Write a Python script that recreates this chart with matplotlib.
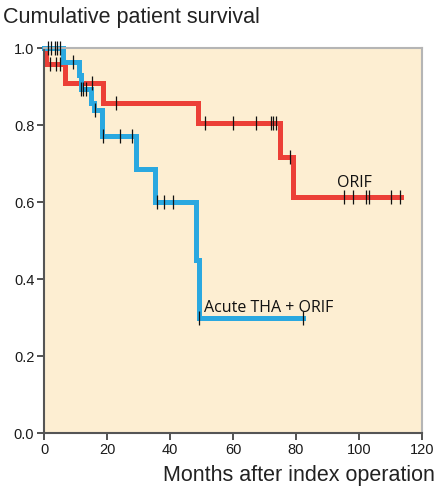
'''
Kaplan-Meier style survival curves, ORIF vs acute THA + ORIF.
'''
import matplotlib
matplotlib.use('Agg')
import matplotlib.pyplot as plt

plt.rcParams['font.family'] = ['Liberation Sans', 'DejaVu Sans']

# step curves (month of change, survival from that month on)
orif_t = [0, 0.6, 6.5, 18.8, 48.9, 74.9, 79.0]
orif_s = [1.0, 0.96, 0.91, 0.858, 0.806, 0.717, 0.614]
orif_end = 113.3
orif_cens_t = [1.8, 3.9, 5.0, 15.1, 23.0, 51.0, 60.0, 67.2, 72.1, 72.8, 73.5,
               78.1, 95.2, 98.1, 102.3, 103.2, 110.0, 113.0]

tha_t = [0, 6.0, 11.2, 11.6, 14.8, 16.0, 18.3, 29.2, 35.2, 48.1, 49.2]
tha_s = [1.0, 0.964, 0.929, 0.893, 0.857, 0.84, 0.771, 0.685, 0.60, 0.45, 0.30]
tha_end = 82.1
tha_cens_t = [1.3, 2.3, 3.4, 4.2, 5.0, 9.2, 11.7, 12.5, 13.2, 16.2, 18.8, 24.1,
              28.0, 36.0, 38.1, 41.0, 49.2, 82.1]

RED = '#ec3f37'
BLUE = '#2aa8e0'


def surv_at(times, surv, t):
    val = surv[0]
    for ti, si in zip(times, surv):
        if t >= ti:
            val = si
    return val


def plot_curve(ax, times, surv, end, cens, color):
    xs = list(times) + [end]
    ys = list(surv) + [surv[-1]]
    ax.step(xs, ys, where='post', color=color, lw=3.6, clip_on=False,
            solid_joinstyle='miter', zorder=2)
    ax.plot(cens, [surv_at(times, surv, c) for c in cens], ls='none',
            marker='|', ms=10.5, mew=0.9, color='#111111', clip_on=False,
            zorder=3)


fig = plt.figure(figsize=(4.36, 4.86), dpi=100)
ax = fig.add_axes([0.101, 0.109, 0.867, 0.792])
ax.set_facecolor('#fdeed2')

plot_curve(ax, orif_t, orif_s, orif_end, orif_cens_t, RED)
plot_curve(ax, tha_t, tha_s, tha_end, tha_cens_t, BLUE)

ax.text(92.9, 0.65, 'ORIF', fontsize=11.5, color='#111111', va='center',
        family=['Open Sans', 'DejaVu Sans'])
ax.text(50.8, 0.325, 'Acute THA + ORIF', fontsize=11.5, color='#111111',
        va='center', family=['Open Sans', 'DejaVu Sans'])

ax.set_xlim(0, 120)
ax.set_ylim(0, 1.0)
ax.set_xticks(range(0, 121, 20))
ax.set_yticks([0, 0.2, 0.4, 0.6, 0.8, 1.0])
ax.set_yticklabels([f'{v:.1f}' for v in [0, 0.2, 0.4, 0.6, 0.8, 1.0]])
ax.tick_params(direction='out', length=5, width=1.3, color='#444444',
               labelsize=10.5, labelcolor='#1a1a1a', pad=2)

for side in ['left', 'bottom']:
    ax.spines[side].set_color('#555555')
    ax.spines[side].set_linewidth(1.5)
for side in ['top', 'right']:
    ax.spines[side].set_color('#b5b5b5')
    ax.spines[side].set_linewidth(1.5)

fig.text(0.007, 0.963, 'Cumulative patient survival', fontsize=15.5,
         color='#222222', va='center', ha='left')
fig.text(0.998, 0.021, 'Months after index operation', fontsize=15.5,
         color='#222222', va='center', ha='right')

fig.savefig('out.png', dpi=100)
